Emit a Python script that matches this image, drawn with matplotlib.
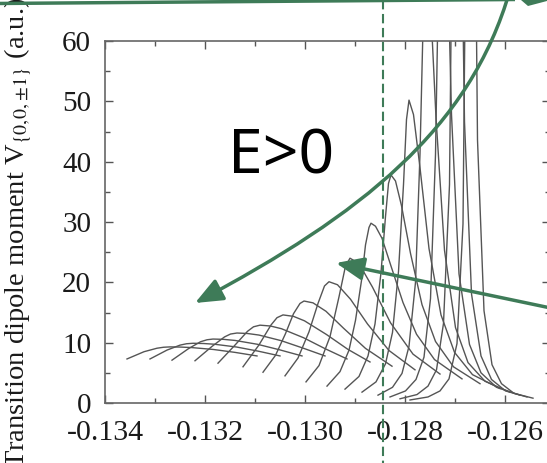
import matplotlib
matplotlib.use("Agg")
import matplotlib.pyplot as plt
from matplotlib.patches import FancyArrowPatch, Polygon
from matplotlib.path import Path
from matplotlib.ticker import MultipleLocator, FormatStrFormatter

plt.rcParams['font.family'] = ['Liberation Serif', 'DejaVu Serif']
plt.rcParams['mathtext.fontset'] = 'stix'
plt.rcParams['axes.unicode_minus'] = False

# ---- data: one resonance curve per field value (energy in a.u., dipole in a.u.)
c0_x = [-0.13356, -0.13322, -0.13296, -0.13283, -0.13270, -0.13249, -0.13227, -0.13183, -0.13140, -0.13096]
c0_y = [7.3, 8.5, 9.08, 9.24, 9.3, 9.27, 9.19, 8.87, 8.39, 7.8]
c1_x = [-0.13310, -0.13276, -0.13250, -0.13237, -0.13224, -0.13203, -0.13181, -0.13137, -0.13094, -0.13050]
c1_y = [7.3, 8.77, 9.59, 9.82, 9.9, 9.86, 9.74, 9.28, 8.6, 7.8]
c2_x = [-0.13266, -0.13233, -0.13209, -0.13196, -0.13184, -0.13163, -0.13140, -0.13095, -0.13051, -0.13006]
c2_y = [7.1, 9.01, 10.15, 10.48, 10.6, 10.55, 10.37, 9.73, 8.82, 7.8]
c3_x = [-0.13220, -0.13186, -0.13161, -0.13149, -0.13136, -0.13115, -0.13092, -0.13048, -0.13004, -0.12960]
c3_y = [7.0, 9.38, 10.95, 11.43, 11.6, 11.52, 11.26, 10.34, 9.1, 7.8]
c4_x = [-0.13174, -0.13140, -0.13115, -0.13103, -0.13090, -0.13069, -0.13047, -0.13003, -0.12960, -0.12916]
c4_y = [6.6, 9.6, 11.88, 12.63, 12.9, 12.76, 12.31, 10.82, 9.01, 7.3]
c5_x = [-0.13124, -0.13092, -0.13068, -0.13056, -0.13044, -0.13023, -0.13001, -0.12957, -0.12914, -0.12870]
c5_y = [6.0, 9.63, 12.93, 14.14, 14.6, 14.36, 13.62, 11.35, 8.88, 6.8]
c6_x = [-0.13084, -0.13059, -0.13039, -0.13023, -0.13010, -0.13002, -0.12984, -0.12958,
        -0.12923, -0.12879, -0.12826]
c6_y = [5.1, 7.9, 11.5, 14.8, 16.5, 16.9, 16.6, 15.2, 12.4, 9.05, 6.1]
c7_x = [-0.13040, -0.13014, -0.12992, -0.12974, -0.12961, -0.12952, -0.12935, -0.12909,
        -0.12875, -0.12832, -0.12780]
c7_y = [4.5, 7.45, 11.8, 16.5, 19.4, 20.1, 19.6, 17.2, 13.1, 8.7, 5.5]
c8_x = [-0.12998, -0.12972, -0.12950, -0.12932, -0.12919, -0.12910, -0.12892, -0.12865,
        -0.12829, -0.12784, -0.12730]
c8_y = [3.5, 6.2, 11.0, 17.6, 22.7, 24.0, 23.1, 19.2, 13.3, 8.1, 4.8]
c9_x = [-0.12956, -0.12930, -0.12912, -0.12899, -0.12887, -0.12879, -0.12872, -0.12868,
        -0.12859, -0.12846, -0.12828, -0.12804, -0.12777, -0.12741, -0.12686]
c9_y = [2.8, 5.2, 8.75, 13.7, 20.3, 26.2, 29.1, 29.8, 29.3, 27.3, 22.7, 16.65, 11.4, 7.2, 4.0]
c10_x = [-0.12920, -0.12892, -0.12874, -0.12860, -0.12848, -0.12839, -0.12833, -0.12828,
         -0.12819, -0.12807, -0.12789, -0.12766, -0.12739, -0.12703, -0.12650]
c10_y = [2.3, 4.4, 7.8, 13.1, 21.6, 30.9, 36.4, 37.8, 36.8, 32.7, 24.8, 16.3, 10.2, 6.0, 3.2]
c11_x = [-0.12886, -0.12858, -0.12839, -0.12825, -0.12813, -0.12803, -0.12797, -0.12792,
         -0.12783, -0.12770, -0.12752, -0.12728, -0.12701, -0.12665, -0.12610]
c11_y = [1.8, 3.5, 6.5, 11.7, 21.8, 36.2, 47.0, 50.2, 47.8, 39.0, 25.6, 14.6, 8.4, 4.7, 2.4]
c12_x = [-0.12854, -0.12825, -0.12806, -0.12792, -0.12779, -0.12770, -0.12763, -0.12760,
         -0.12758, -0.12755, -0.12750, -0.12738, -0.12721, -0.12699, -0.12674, -0.12640, -0.12590]
c12_y = [1.3, 2.6, 4.9, 9.4, 20.0, 41.3, 65.7, 73.3, 75.0, 73.8, 68.1, 47.3, 25.3, 12.5, 6.7, 3.6, 1.8]
c13_x = [-0.12830, -0.12799, -0.12778, -0.12762, -0.12749, -0.12739, -0.12731, -0.12728,
         -0.12726, -0.12723, -0.12718, -0.12707, -0.12692, -0.12671, -0.12648, -0.12617, -0.12570]
c13_y = [1.0, 2.0, 3.9, 7.6, 17.3, 41.2, 80.2, 96.2, 100.0, 97.0, 84.1, 47.8, 21.4, 9.7, 5.0, 2.6, 1.3]
c14_x = [-0.12810, -0.12776, -0.12754, -0.12737, -0.12723, -0.12711, -0.12704, -0.12700,
         -0.12698, -0.12695, -0.12691, -0.12681, -0.12667, -0.12648, -0.12627, -0.12599, -0.12556]
c14_y = [0.7, 1.4, 2.8, 5.5, 13.2, 36.2, 93.5, 129.7, 140.0, 132.6, 103.9, 46.6, 18.1, 7.8, 3.9, 2.0, 1.0]
c15_x = [-0.12790, -0.12754, -0.12730, -0.12712, -0.12696, -0.12684, -0.12676, -0.12672,
         -0.12670, -0.12668, -0.12664, -0.12655, -0.12642, -0.12626, -0.12607, -0.12582, -0.12544]
c15_y = [0.5, 1.0, 2.0, 4.0, 9.85, 29.7, 100.2, 172.5, 200.0, 181.9, 123.3, 43.6, 15.3, 6.35, 3.2, 1.6, 0.8]

curves_x = [c0_x, c1_x, c2_x, c3_x, c4_x, c5_x, c6_x, c7_x, c8_x, c9_x, c10_x, c11_x,
            c12_x, c13_x, c14_x, c15_x]
curves_y = [c0_y, c1_y, c2_y, c3_y, c4_y, c5_y, c6_y, c7_y, c8_y, c9_y, c10_y, c11_y,
            c12_y, c13_y, c14_y, c15_y]

x_major = [-0.134, -0.132, -0.130, -0.128, -0.126]
y_major = [0, 10, 20, 30, 40, 50, 60]
marker_energy = -0.12844
ylabel_text = r'Transition dipole moment V$_{\{0,\!0,\!\pm\!1\}}$ (a.u.)'
annot_text = 'E>0'

W, H = 547, 463
fig = plt.figure(figsize=(W / 100, H / 100), dpi=100)
ax = fig.add_axes([105 / W, 60 / H, 445 / W, 362 / H])

for xs, ys in zip(curves_x, curves_y):
    ax.plot(xs, ys, color='#555555', lw=1.0, solid_joinstyle='round')

ax.set_xlim(-0.134, -0.1251)
ax.set_ylim(0, 60)
ax.set_xticks(x_major)
ax.set_yticks(y_major)
ax.xaxis.set_minor_locator(MultipleLocator(0.001))
ax.yaxis.set_minor_locator(MultipleLocator(5))
ax.xaxis.set_major_formatter(FormatStrFormatter('%.3f'))
ax.tick_params(which='both', direction='in', top=True, right=True, color='#555555',
               width=1.0, labelcolor='#1a1a1a')
ax.tick_params(axis='x', labelsize=21.5, pad=12)
ax.tick_params(axis='y', labelsize=21, pad=10)
ax.tick_params(which='major', length=6)
ax.tick_params(which='minor', length=3.5)
for sp in ax.spines.values():
    sp.set_color('#666666')
    sp.set_linewidth(1.2)
ax.set_ylabel(ylabel_text, fontsize=20.5, color='#1a1a1a')
ax.yaxis.set_label_coords(-0.16, 0.47)

# ---- overlay (pixel coordinates) for the annotation graphics
green = '#3E7B58'
ov = fig.add_axes([0, 0, 1, 1], zorder=5)
ov.set_xlim(0, W)
ov.set_ylim(H, 0)
ov.axis('off')
ov.patch.set_alpha(0)

xd = ax.transData.transform((marker_energy, 0))[0]
xd = ov.transData.inverted().transform((xd, 0))[0]
ov.plot([xd, xd], [0, H], color=green, lw=1.5, ls=(0, (4.5, 2.2)))

ov.plot([-5, 515], [3.5, -0.5], color=green, lw=2.5, solid_capstyle='butt')
ov.add_patch(Polygon([(521, 0), (547, 0), (547, 1), (528, 6)], closed=True,
                     color=green, lw=0))

ov.text(281, 158, annot_text, fontsize=45, family='Noto Sans', ha='center',
        va='center', color='black')

head = '-|>,head_length=1.2,head_width=0.5'
curve = Path([(510, -10), (470, 130), (360, 215), (195, 303)],
             [Path.MOVETO, Path.CURVE4, Path.CURVE4, Path.CURVE4])
ov.add_patch(FancyArrowPatch(path=curve, arrowstyle=head, mutation_scale=14,
                             lw=2.5, color=green, transform=ov.transData))
ov.annotate('', xy=(336, 263), xytext=(565, 311),
            arrowprops=dict(arrowstyle=head, mutation_scale=14, lw=2.5, color=green,
                            shrinkA=0, shrinkB=0))

fig.savefig('out.png', dpi=100)
